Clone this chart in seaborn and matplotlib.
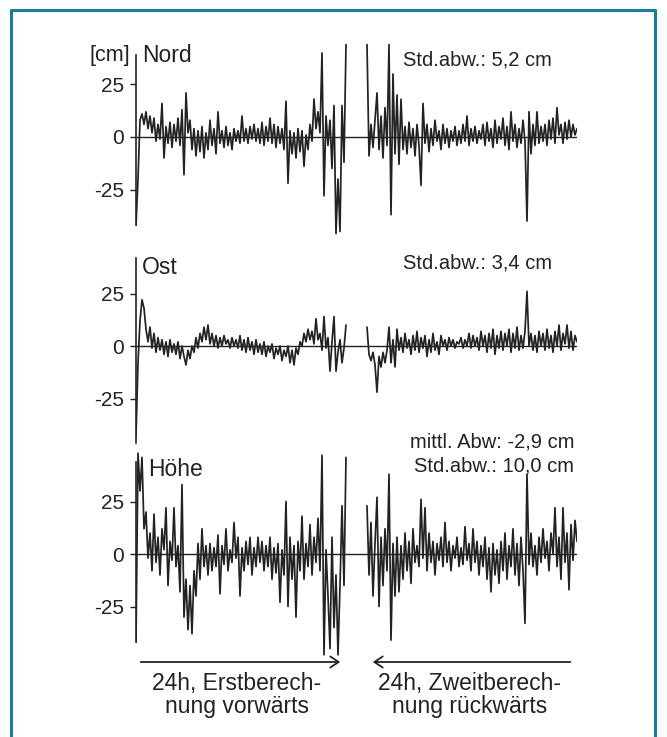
import numpy as np
import pandas as pd
import matplotlib.pyplot as plt
import seaborn as sns
from matplotlib.lines import Line2D
from matplotlib.patches import FancyArrowPatch

# Abweichungen in cm (Vorwärts- / Rückwärtsrechnung, je 24 h)
nord_vor = [-42, -20, 8, 11, 6, 12, 4, 10, 2, 9, -2, 6, -1, 16, -10, 5, -3, 7, -5, 6,
            -2, 9, -4, 13, -18, 21, 2, 8, -6, 4, -9, 3, -7, 5, -10, 2, -6, 8, -4, 4,
            -8, 12, -3, 3, -5, 5, -4, 2, -6, 4, -2, 3, -3, 10, -2, 4, -3, 5, -1, 6,
            -2, 4, -3, 7, -4, 5, -2, 9, -3, 6, -5, 5, -3, 4, -6, 17, -22, 3, -8, 2,
            -10, 4, -7, 3, -14, 1, -6, 6, -2, 18, 4, 12, 2, 40, -28, 10, -4, 8, -15, 15,
            -46, -20, -45, 15, -12, 44]
nord_rueck = [44, -9, 6, -5, 8, 21, -6, 10, -10, 14, -4, 44, -37, 30, -8, 20, -13, 18, -6, 5,
              -8, 7, -5, 4, -9, 6, -4, -23, 16, -3, 6, -7, 4, -4, 8, -2, 3, -6, 6, -3,
              4, -5, 3, -2, 5, -4, 3, -3, 6, -2, 10, -4, 4, -2, 5, -3, 3, -1, 6, -4,
              7, -2, 4, -5, 8, -3, 5, -1, 9, -4, 5, -6, 12, -2, 6, -5, 4, -3, 8, -2,
              -40, 12, -8, 6, -4, 12, -3, 5, -2, 6, -4, 8, -1, 9, -3, 14, 1, 6, -3, 7,
              -1, 8, 0, 6, 1, 4]

ost_vor = [-43, -8, 12, 22, 18, 8, 2, 9, -1, 6, -3, 4, -2, 3, -4, 2, -5, 3, -3, 1,
           -4, 2, -6, 0, -5, -9, -2, -6, 0, -3, 4, -1, 6, 2, 9, 3, 10, 1, 6, 0,
           5, -1, 4, 0, 5, 1, 3, -1, 4, 0, 3, -1, 5, -2, 3, -3, 4, -2, 2, -4,
           3, -3, 1, -4, 2, -5, 0, -3, 1, -6, -1, -4, 0, -7, -2, -5, 0, -8, -2, -9,
           -1, -4, 2, 0, 6, 2, 8, 3, 7, 1, 13, 3, 6, -2, 14, -1, 4, -12, 2, 14,
           -12, -3, 3, -8, -1, 10]
ost_rueck = [9, -4, -7, -3, -9, -22, -5, -10, -3, -8, -2, 9, -8, 3, -10, 8, -2, 4, -3, 6,
             -1, 3, -4, 5, -2, 7, -3, 4, -1, 5, -5, 3, -3, 6, -2, 2, -4, 5, 0, 3,
             -2, 4, 0, 3, -1, 2, 1, 4, -1, 3, 0, 6, -1, 5, 0, 4, -2, 7, 0, 5,
             -3, 6, -1, 8, -4, 5, -1, 7, -2, 6, 0, 8, -3, 6, -1, 9, -2, 5, -1, 7,
             26, 0, 6, -2, 5, -3, 7, 0, 6, -2, 8, -1, 5, -3, 7, 0, 10, -2, 6, 1,
             10, -1, 7, -2, 5, 2]

hoehe_vor = [-42, 48, 30, 46, 12, 20, -2, 10, -8, 19, -4, 8, -10, 12, 2, 22, -15, 6, -3, 22,
             -6, 4, -18, 33, -30, -12, -36, -15, -38, -8, -20, 5, -12, 12, -6, 4, -10, 5, -8, 3,
             -6, 9, -19, 4, -5, 12, -8, 2, -4, 15, -2, 8, -20, 3, -8, 6, -5, 8, -10, 3,
             -6, 8, -4, 6, -8, 4, -6, 8, -12, 3, -9, 5, -23, 2, -10, 25, -25, 8, -12, 4,
             -30, 6, -8, 18, -12, 5, -6, 14, -10, 8, -4, 17, -8, 47, -48, 2, -20, -45, 8, -35,
             -10, -48, -15, 23, -15, 46]
hoehe_rueck = [23, -10, 15, -20, 5, 27, -25, 8, -15, 12, -8, 38, -41, 5, -20, 8, -18, 4, -12, 10,
               -8, 6, -14, 12, -4, 4, -6, 26, -2, 22, -8, 10, -4, 6, -10, 5, -3, 8, -6, 15,
               -4, 6, -8, 4, -2, 8, -6, 3, -5, 13, -3, 5, -8, 12, -4, 6, -10, 4, -6, 8,
               -12, 3, -18, 5, -10, 2, -14, 6, -8, 10, -12, 4, -6, 12, -10, 5, -15, 8, -8, -33,
               38, -5, 10, -6, 4, -10, 8, -4, 12, -2, 6, -8, 10, 0, 22, -6, 8, -12, 22, -4,
               10, -17, 14, -3, 16, 6]

panels = [
    ("Nord", nord_vor, nord_rueck, (-42, 39)),
    ("Ost", ost_vor, ost_rueck, (-46, 42)),
    ("Höhe", hoehe_vor, hoehe_rueck, (-42, 44)),
]
ticks = [25, 0, -25]

W, H = 667, 737
ink = "#222222"


def fx(px):
    return px / W


def fy(py):
    return 1 - py / H


sns.set_style("white")
plt.rcParams["font.family"] = ["Liberation Sans", "DejaVu Sans"]

fig = plt.figure(figsize=(W / 100, H / 100), dpi=100)
fig.patch.set_facecolor("white")

centers = [137, 346, 554]   # Pixelzeile der Nulllinie je Panel
for (name, vor, rueck, bounds), cy in zip(panels, centers):
    top, bottom = cy - 105, cy + 105
    ax = fig.add_axes([fx(136), fy(bottom), fx(441), (bottom - top) / H])
    ax.set_facecolor("none")

    t_vor = np.linspace(0, 24, len(vor))
    t_rueck = np.linspace(26.4, 50.4, len(rueck))
    df = pd.DataFrame({
        "t": np.concatenate([t_vor, t_rueck]),
        "v": vor + rueck,
        "seg": ["vor"] * len(vor) + ["rueck"] * len(rueck),
    })
    sns.lineplot(data=df, x="t", y="v", units="seg", estimator=None, sort=False,
                 color=ink, linewidth=1.25, ax=ax)
    ax.axhline(0, color=ink, linewidth=1.0)

    ax.set_xlim(0, 50.4)
    ax.set_ylim(-50, 50)
    ax.set_xlabel("")
    ax.set_ylabel("")
    ax.set_xticks([])
    ax.set_yticks(ticks)
    ax.set_yticklabels([str(v) for v in ticks])
    ax.tick_params(axis="y", direction="out", length=4.5, width=1.0, pad=4,
                   labelsize=15, colors=ink, left=True)
    for s in ["top", "right", "bottom"]:
        ax.spines[s].set_visible(False)
    ax.spines["left"].set_bounds(*bounds)
    ax.spines["left"].set_color(ink)
    ax.spines["left"].set_linewidth(1.2)

# Beschriftungen
fig.text(fx(130), fy(55), "[cm]", ha="right", va="center", fontsize=15.5, color=ink)
fig.text(fx(142), fy(55), "Nord", ha="left", va="center", fontsize=16.5, color=ink)
fig.text(fx(142), fy(267), "Ost", ha="left", va="center", fontsize=16.5, color=ink)
fig.text(fx(148), fy(470), "Höhe", ha="left", va="center", fontsize=16.5, color=ink)

fig.text(fx(403), fy(60), "Std.abw.: 5,2 cm", ha="left", va="center", fontsize=14.5, color=ink)
fig.text(fx(403), fy(263), "Std.abw.: 3,4 cm", ha="left", va="center", fontsize=14.5, color=ink)
fig.text(fx(574), fy(442), "mittl. Abw: -2,9 cm", ha="right", va="center", fontsize=14.5, color=ink)
fig.text(fx(574), fy(466), "Std.abw.: 10,0 cm", ha="right", va="center", fontsize=14.5, color=ink)

# Pfeile für Rechenrichtung
for x0, x1 in [(138, 343), (573, 370)]:
    fig.add_artist(FancyArrowPatch((fx(x0), fy(662)), (fx(x1), fy(662)),
                                   transform=fig.transFigure,
                                   arrowstyle="->,head_length=0.6,head_width=0.4",
                                   mutation_scale=10, linewidth=1.3, color=ink))

fig.text(fx(237), fy(695), "24h, Erstberech-\nnung vorwärts", ha="center", va="center",
         fontsize=16.5, color=ink, linespacing=1.05)
fig.text(fx(470), fy(695), "24h, Zweitberech-\nnung rückwärts", ha="center", va="center",
         fontsize=16.5, color=ink, linespacing=1.05)

# Rahmen (oben, links, rechts)
frame = "#1a7e9a"
for xs, ys in [([11, 655], [10, 10]), ([11, 11], [10, 737]), ([655, 655], [10, 737])]:
    fig.add_artist(Line2D([fx(x) for x in xs], [fy(y) for y in ys],
                          transform=fig.transFigure, color=frame, linewidth=2.2))

fig.savefig("out.png", dpi=100, facecolor="white")
